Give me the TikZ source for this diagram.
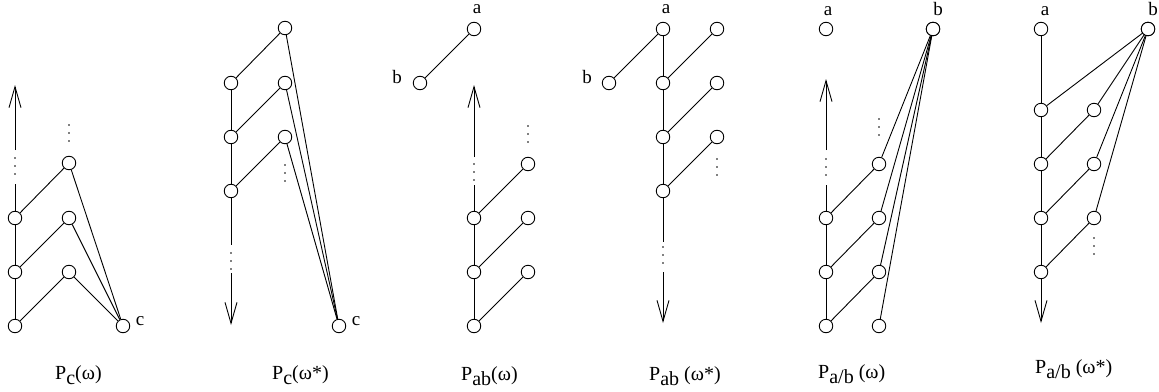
\documentclass[tikz,border=0pt]{standalone}
\usepackage{fontspec}
\setmainfont{Liberation Serif}
\usetikzlibrary{arrows.meta}
\newcommand\mysub[1]{\raisebox{-5pt}{#1}}
\begin{document}
\begin{tikzpicture}[x=1pt,y=-1pt,
  v/.style={circle,draw,line width=0.9pt,minimum size=13.5pt,inner sep=0pt},
  ln/.style={line width=0.9pt},
  arr/.style={line width=0.9pt,-{Straight Barb[length=21pt,width=12pt,line width=0.9pt]}},
  lab/.style={anchor=base,inner sep=0pt,font=\fontsize{19}{19}\selectfont},
  captxt/.style={anchor=base west,inner sep=0pt,font=\fontsize{20}{20}\selectfont}]
\useasboundingbox (0,0) rectangle (1159,391);
\newcommand\tdots[2]{\fill (#1,#2) circle (0.8); \fill (#1,#2+8) circle (0.8); \fill (#1,#2+16) circle (0.8);}

% ---------- Panel 1: P_c(omega)
\node[v] (p1l1) at (15,326) {};
\node[v] (p1l2) at (15,272) {};
\node[v] (p1l3) at (15,218) {};
\node[v] (p1m1) at (69,272) {};
\node[v] (p1m2) at (69,218) {};
\node[v] (p1m3) at (69,163) {};
\node[v] (p1c) at (123,326) {};
\node[lab] (p1cl) at (140,325) {c};
\coordinate (p1e1) at (15,184);
\coordinate (p1e2) at (15,150);
\coordinate (p1t) at (15,85);
\draw[ln] (p1l1) -- (p1l2) -- (p1l3) -- (p1e1);
\draw[arr] (p1e2) -- (p1t);
\tdots{15}{158}
\tdots{69}{125}
\draw[ln] (p1l1) -- (p1m1); \draw[ln] (p1l2) -- (p1m2); \draw[ln] (p1l3) -- (p1m3);
\draw[ln] (p1m1) -- (p1c); \draw[ln] (p1m2) -- (p1c); \draw[ln] (p1m3) -- (p1c);
\node[captxt] (p1cap) at (55,379) {P\mysub{c}(ω)};

% ---------- Panel 2: P_c(omega*)
\node[v] (p2l1) at (231,83) {};
\node[v] (p2l2) at (231,137) {};
\node[v] (p2l3) at (231,191) {};
\node[v] (p2m1) at (285,28) {};
\node[v] (p2m2) at (285,83) {};
\node[v] (p2m3) at (285,137) {};
\node[v] (p2c) at (339,326) {};
\node[lab] (p2cl) at (356,325) {c};
\coordinate (p2e1) at (231,245);
\coordinate (p2e2) at (231,273);
\coordinate (p2t) at (231,325);
\draw[ln] (p2l1) -- (p2l2) -- (p2l3) -- (p2e1);
\draw[arr] (p2e2) -- (p2t);
\tdots{231}{253}
\tdots{285}{165}
\draw[ln] (p2l1) -- (p2m1); \draw[ln] (p2l2) -- (p2m2); \draw[ln] (p2l3) -- (p2m3);
\draw[ln] (p2m1) -- (p2c); \draw[ln] (p2m2) -- (p2c); \draw[ln] (p2m3) -- (p2c);
\node[captxt] (p2cap) at (272,379) {P\mysub{c}(ω*)};

% ---------- Panel 3: P_ab(omega)
\node[v] (p3b) at (420,83) {};
\node[v] (p3a) at (474,29) {};
\node[lab] (p3al) at (477,13) {a};
\node[lab] (p3bl) at (397,83) {b};
\draw[ln] (p3b) -- (p3a);
\node[v] (p3l1) at (474,326) {};
\node[v] (p3l2) at (474,272) {};
\node[v] (p3l3) at (474,218) {};
\node[v] (p3r1) at (528,272) {};
\node[v] (p3r2) at (528,218) {};
\node[v] (p3r3) at (528,164) {};
\coordinate (p3e1) at (474,185);
\coordinate (p3e2) at (474,157);
\coordinate (p3t) at (474,85);
\draw[ln] (p3l1) -- (p3l2) -- (p3l3) -- (p3e1);
\draw[arr] (p3e2) -- (p3t);
\tdots{474}{164}
\tdots{528}{126}
\draw[ln] (p3l1) -- (p3r1); \draw[ln] (p3l2) -- (p3r2); \draw[ln] (p3l3) -- (p3r3);
\node[captxt] (p3cap) at (461,380) {P\mysub{ab}(ω)};

% ---------- Panel 4: P_ab(omega*)
\node[v] (p4b) at (609,83) {};
\node[v] (p4a) at (663,29) {};
\node[lab] (p4al) at (666,13) {a};
\node[lab] (p4bl) at (587,83) {b};
\draw[ln] (p4b) -- (p4a);
\node[v] (p4l1) at (663,83) {};
\node[v] (p4l2) at (663,137) {};
\node[v] (p4l3) at (663,191) {};
\node[v] (p4r1) at (717,29) {};
\node[v] (p4r2) at (717,83) {};
\node[v] (p4r3) at (717,137) {};
\coordinate (p4e1) at (663,242);
\coordinate (p4e2) at (663,272);
\coordinate (p4t) at (663,323);
\draw[ln] (p4a) -- (p4l1) -- (p4l2) -- (p4l3) -- (p4e1);
\draw[arr] (p4e2) -- (p4t);
\tdots{663}{247}
\tdots{717}{159}
\draw[ln] (p4l1) -- (p4r1); \draw[ln] (p4l2) -- (p4r2); \draw[ln] (p4l3) -- (p4r3);
\node[captxt] (p4cap) at (649,380) {P\mysub{ab} (ω*)};

% ---------- Panel 5: P_a/b(omega)
\node[v] (p5a) at (826,29) {};
\node[v] (p5b) at (933,29) {};
\node[lab] (p5al) at (828,15) {a};
\node[lab] (p5bl) at (938,15) {b};
\node[v] (p5l1) at (826,326) {};
\node[v] (p5l2) at (826,272) {};
\node[v] (p5l3) at (826,218) {};
\node[v] (p5m1) at (879,326) {};
\node[v] (p5m2) at (879,272) {};
\node[v] (p5m3) at (879,218) {};
\node[v] (p5m4) at (879,164) {};
\coordinate (p5e1) at (826,185);
\coordinate (p5e2) at (826,150);
\coordinate (p5t) at (826,79);
\draw[ln] (p5l1) -- (p5l2) -- (p5l3) -- (p5e1);
\draw[arr] (p5e2) -- (p5t);
\tdots{826}{159}
\tdots{879}{119}
\draw[ln] (p5l1) -- (p5m2); \draw[ln] (p5l2) -- (p5m3); \draw[ln] (p5l3) -- (p5m4);
\draw[ln] (p5m1) -- (p5b.center); \draw[ln] (p5m2) -- (p5b.center);
\draw[ln] (p5m3) -- (p5b.center); \draw[ln] (p5m4) -- (p5b.center);
\node[v,fill=white] (p5bb) at (p5b) {};
\node[captxt] (p5cap) at (818,378) {P\mysub{a/b} (ω)};

% ---------- Panel 6: P_a/b(omega*)
\node[v] (p6a) at (1041,29) {};
\node[v] (p6b) at (1148,29) {};
\node[lab] (p6al) at (1045,15) {a};
\node[lab] (p6bl) at (1153,15) {b};
\node[v] (p6l1) at (1041,110) {};
\node[v] (p6l2) at (1041,164) {};
\node[v] (p6l3) at (1041,218) {};
\node[v] (p6l4) at (1041,272) {};
\node[v] (p6m1) at (1094,110) {};
\node[v] (p6m2) at (1094,164) {};
\node[v] (p6m3) at (1094,218) {};
\coordinate (p6t) at (1041,323);
\draw[ln] (p6a) -- (p6l1) -- (p6l2) -- (p6l3) -- (p6l4);
\draw[arr] (p6l4) -- (p6t);
\tdots{1094}{238}
\draw[ln] (p6l2) -- (p6m1); \draw[ln] (p6l3) -- (p6m2); \draw[ln] (p6l4) -- (p6m3);
\draw[ln] (p6l1) -- (p6b.center); \draw[ln] (p6m1) -- (p6b.center);
\draw[ln] (p6m2) -- (p6b.center); \draw[ln] (p6m3) -- (p6b.center);
\node[v,fill=white] (p6bb) at (p6b) {};
\node[captxt] (p6cap) at (1035,373) {P\mysub{a/b} (ω*)};
\end{tikzpicture}
\end{document}
